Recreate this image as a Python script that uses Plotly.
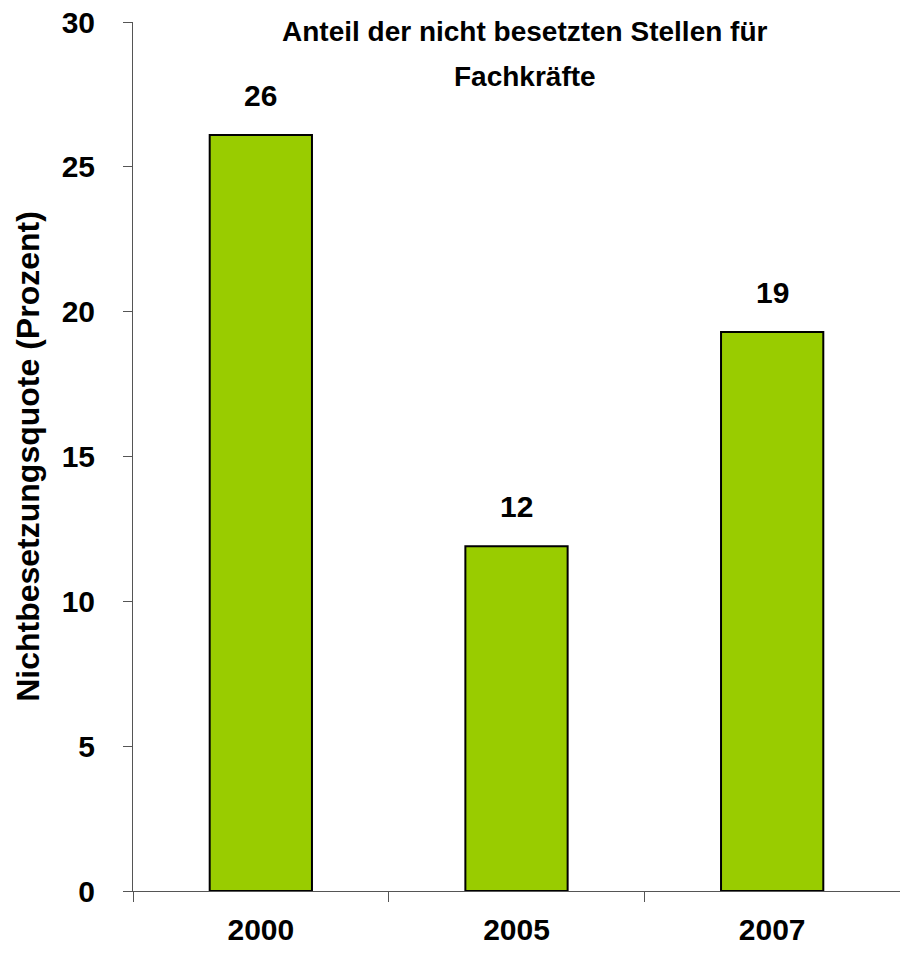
import plotly.graph_objects as go

years = ["2000", "2005", "2007"]
quote = [26.1, 11.9, 19.3]
labels = ["26", "12", "19"]
y_ticks = [0, 5, 10, 15, 20, 25, 30]

title_lines = ["Anteil der nicht besetzten Stellen für", "Fachkräfte"]
y_title = "Nichtbesetzungsquote (Prozent)"

FONT = "Liberation Sans, Arial, sans-serif"

fig = go.Figure()
fig.add_trace(go.Bar(
    x=years, y=quote, width=0.4,
    marker=dict(color="#99CC00", line=dict(color="black", width=2)),
    hoverinfo="skip",
))

for i, (yv, t) in enumerate(zip(quote, labels)):
    fig.add_annotation(x=i, y=yv, xref="x", yref="y", text=t, showarrow=False,
                       yanchor="bottom", yshift=21,
                       font=dict(family=FONT, size=30, color="black", weight="bold"))

for k, line in enumerate(title_lines):
    top_px = 14 + 45 * k
    fig.add_annotation(x=(525 - 133) / 767, y=1 - (top_px - 22) / 869,
                       xref="paper", yref="paper",
                       xanchor="center", yanchor="top", showarrow=False, text=line,
                       font=dict(family=FONT, size=28, color="black", weight="bold"))

fig.update_layout(
    width=900, height=960,
    margin=dict(l=133, r=0, t=22, b=69),
    plot_bgcolor="white", paper_bgcolor="white",
    showlegend=False,
)
fig.update_xaxes(
    type="category", range=[-0.5, 2.5], tickson="boundaries", ticks="outside", ticklen=10,
    tickcolor="#555555", showline=True, linecolor="#555555", linewidth=1,
    showgrid=False, ticklabelstandoff=12, tickangle=0,
    tickfont=dict(family=FONT, size=30, color="black", weight="bold"),
)
fig.update_yaxes(
    range=[0, 30], tickvals=y_ticks, ticks="outside", ticklen=9,
    tickcolor="#555555", showline=True, linecolor="#555555", linewidth=1,
    showgrid=False, zeroline=False, ticklabelstandoff=22,
    tickfont=dict(family=FONT, size=30, color="black", weight="bold"),
    title=dict(text=y_title, standoff=12,
               font=dict(family=FONT, size=32, color="black", weight="bold")),
)

fig.write_html("out.html", config={"displayModeBar": False},
               post_script="document.body.style.margin='0';")
